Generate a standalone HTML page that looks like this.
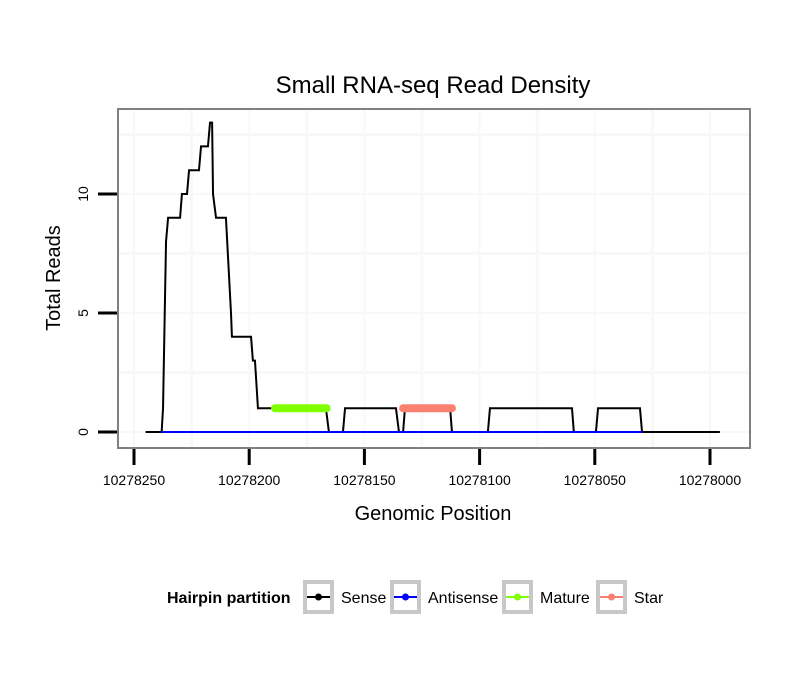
<!DOCTYPE html>
<html><head><meta charset="utf-8"><style>
body{margin:0;background:#fff;font-family:"Liberation Sans",sans-serif}
</style></head><body>
<svg id="chart" width="810" height="690" xmlns="http://www.w3.org/2000/svg" font-family="Liberation Sans, sans-serif">
<rect width="810" height="690" fill="#fff"/>
<text x="433" y="93" font-size="24" text-anchor="middle">Small RNA-seq Read Density</text>
<g id="grid"></g>
<g id="series"></g>
<rect x="118" y="109" width="632" height="339" fill="none" stroke="#808080" stroke-width="2"/>
<g id="axes"></g>
<text x="433" y="520" font-size="20" text-anchor="middle">Genomic Position</text>
<text transform="translate(60,278) rotate(-90)" font-size="20" text-anchor="middle">Total Reads</text>
<g>
<text x="167" y="603" font-size="16" font-weight="bold">Hairpin partition</text>
<g id="legend"></g>
</g>
</svg>
<script>
const senseDist=[5.0,12.0,12.6,13.9,14.8,20.0,20.8,23.0,23.9,28.2,29.1,32.1,33.0,33.9,34.3,35.6,39.9,42.1,42.5,50.8,51.6,52.5,53.8,83.3,84.6,90.7,91.6,113.7,115.0,116.8,117.6,137.2,138.0,153.6,154.5,190.1,190.9,200.5,201.4,219.6,220.5,254.3];
const senseReads=[0,0,1,8,9,9,10,10,11,11,12,12,13,13,10,9,9,5,4,4,3,3,1,1,0,0,1,1,0,0,1,1,0,0,1,1,0,0,1,1,0,0];
const antisenseDist=[12.0,220.5];
const antisenseReads=[0,0];
const matureDist=[61.2,83.6];
const matureReads=[1,1];
const starDist=[116.8,138.0];
const starReads=[1,1];
const xTicks=[10278250,10278200,10278150,10278100,10278050,10278000];
const yTicks=[0,5,10];
const BASE=10278250;
const NS="http://www.w3.org/2000/svg";
function sx(pos){return 134+(BASE-pos)*2.304;}
function sy(v){return 432-v*23.8;}
function mk(tag,attrs,parent){const e=document.createElementNS(NS,tag);for(const k in attrs)e.setAttribute(k,attrs[k]);parent.appendChild(e);return e;}
const grid=document.getElementById('grid'),series=document.getElementById('series'),axes=document.getElementById('axes'),legend=document.getElementById('legend');
for(let i=0;i<xTicks.length;i++){
  const g=mk('line',{x1:sx(xTicks[i]),x2:sx(xTicks[i]),y1:110,y2:447,stroke:'#f8f8f8','stroke-width':2},grid);
  
  
  if(i<xTicks.length-1){const m=(xTicks[i]+xTicks[i+1])/2;
    const g2=mk('line',{x1:sx(m),x2:sx(m),y1:110,y2:447,stroke:'#f8f8f8','stroke-width':3},grid);
    
    }
}
const yGridVals=[0,2.5,5,7.5,10,12.5];
yGridVals.forEach(v=>{
  const g=mk('line',{x1:119,x2:749,y1:sy(v),y2:sy(v),stroke:'#f8f8f8','stroke-width':v%5===0?2:3},grid);
  
  
});
function pts(d,r){return d.map((v,i)=>sx(BASE-v)+','+sy(r[i])).join(' ');}
const sense=mk('polyline',{points:pts(senseDist,senseReads),fill:'none',stroke:'#000','stroke-width':2},series);


const anti=mk('polyline',{points:pts(antisenseDist,antisenseReads),fill:'none',stroke:'#0000ff','stroke-width':2},series);


const mat=mk('polyline',{points:pts(matureDist,matureReads),fill:'none',stroke:'#7fff00','stroke-width':8,'stroke-linecap':'round'},series);


const star=mk('polyline',{points:pts(starDist,starReads),fill:'none',stroke:'#fa8072','stroke-width':8,'stroke-linecap':'round'},series);


xTicks.forEach(t=>{
  const l=mk('line',{x1:sx(t),x2:sx(t),y1:449,y2:465,stroke:'#000','stroke-width':3},axes);
  
  
  const tx=mk('text',{x:sx(t),y:485,'font-size':14,'text-anchor':'middle'},axes);
  tx.textContent=t;
  
  
});
yTicks.forEach(t=>{
  const l=mk('line',{x1:98,x2:117,y1:sy(t),y2:sy(t),stroke:'#000','stroke-width':3},axes);
  
  
  const tx=mk('text',{transform:`translate(88,${sy(t)}) rotate(-90)`,'font-size':14,'text-anchor':'middle'},axes);
  tx.textContent=t;
  
  
});
const legItems=[['Sense','#000',303],['Antisense','#0000ff',390],['Mature','#7fff00',502],['Star','#fa8072',596]];
legItems.forEach(([name,col,x])=>{
  const g=mk('g',{},legend);
  
  
  mk('rect',{x:x+2,y:582,width:27,height:30,fill:'#fff',stroke:'#c8c8c8','stroke-width':4},g);
  mk('line',{x1:x+4,x2:x+27,y1:597,y2:597,stroke:col,'stroke-width':2},g);
  mk('circle',{cx:x+15.5,cy:597,r:3.5,fill:col},g);
  const tx=mk('text',{x:x+38,y:603,'font-size':16},g);
  tx.textContent=name;
});
</script>
</body></html>
